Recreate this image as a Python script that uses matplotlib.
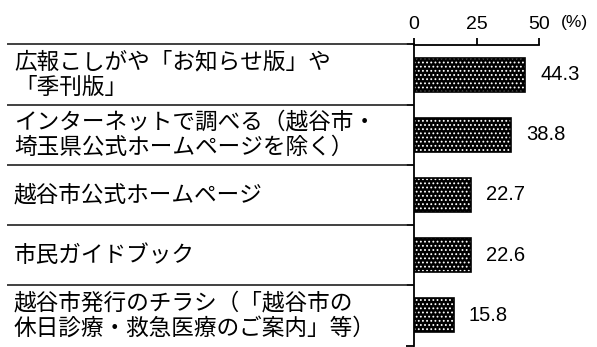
import matplotlib
matplotlib.use("Agg")
import matplotlib.pyplot as plt
from matplotlib.lines import Line2D
from matplotlib import font_manager

plt.rcParams['font.family'] = ['Noto Sans CJK JP', 'DejaVu Sans']
plt.rcParams['hatch.linewidth'] = 0.8

categories = [
    "広報こしがや「お知らせ版」や\n「季刊版」",
    "インターネットで調べる（越谷市・\n埼玉県公式ホームページを除く）",
    "越谷市公式ホームページ",
    "市民ガイドブック",
    "越谷市発行のチラシ（「越谷市の\n休日診療・救急医療のご案内」等）",
]
values = [44.3, 38.8, 22.7, 22.6, 15.8]
xticks = [0, 25, 50]
unit_label = "(%)"

def has_font(name):
    try:
        font_manager.findfont(font_manager.FontProperties(family=name),
                              fallback_to_default=False)
        return True
    except Exception:
        return False

if has_font('Liberation Sans Narrow'):
    narrow = ['Liberation Sans Narrow']
    tick_size, val_size = 15, 15.5
else:
    narrow = ['Liberation Sans']
    tick_size, val_size = 14, 14.5

W, H = 597, 347
fig = plt.figure(figsize=(W / 100, H / 100), dpi=100)
ax = fig.add_axes([414 / W, (H - 345.5) / H, 125 / W, 301 / H])

n = len(categories)
ypos = list(range(n))
ax.barh(ypos, values, height=0.565, color='black', edgecolor='white',
        hatch='....', linewidth=0, zorder=2)
ax.barh(ypos, values, height=0.565, fill=False, edgecolor='black',
        linewidth=1.2, zorder=3)

ax.set_xlim(0, 50)
ax.set_ylim(n - 0.5, -0.5)

for spine in ['right', 'bottom']:
    ax.spines[spine].set_visible(False)
ax.spines['left'].set_linewidth(1.3)
ax.spines['top'].set_linewidth(1.3)

ax.xaxis.tick_top()
ax.set_xticks(xticks)
ax.set_xticklabels([str(t) for t in xticks], fontsize=tick_size, family=narrow)
ax.tick_params(axis='x', direction='out', length=5, width=1.3, pad=3)

bounds = [i - 0.5 for i in range(n + 1)]
ax.set_yticks(bounds)
ax.set_yticklabels([])
ax.tick_params(axis='y', direction='out', length=6, width=1.3)

# separator lines in the label column
for b in bounds[:-1]:
    yfig = ax.transData.transform((0, b))[1]
    line = Line2D([8 / W, 406 / W], [yfig / H, yfig / H],
                  transform=fig.transFigure, color='#404040', linewidth=1.4)
    fig.add_artist(line)

# category labels
for i, cat in enumerate(categories):
    yfig = ax.transData.transform((0, i))[1]
    fig.text(14 / W, yfig / H, cat, ha='left', va='center', fontsize=16.3,
             linespacing=1.1, color='black')

# value labels
for i, v in enumerate(values):
    ax.annotate(f"{v:.1f}", xy=(v, i), xytext=(11, 0), textcoords='offset points',
                ha='left', va='center', fontsize=val_size, family=narrow,
                annotation_clip=False)

fig.text(561 / W, 1 - 22 / H, unit_label, ha='left', va='center',
         fontsize=tick_size - 1.5, family=narrow)

fig.savefig("out.png", dpi=100)
